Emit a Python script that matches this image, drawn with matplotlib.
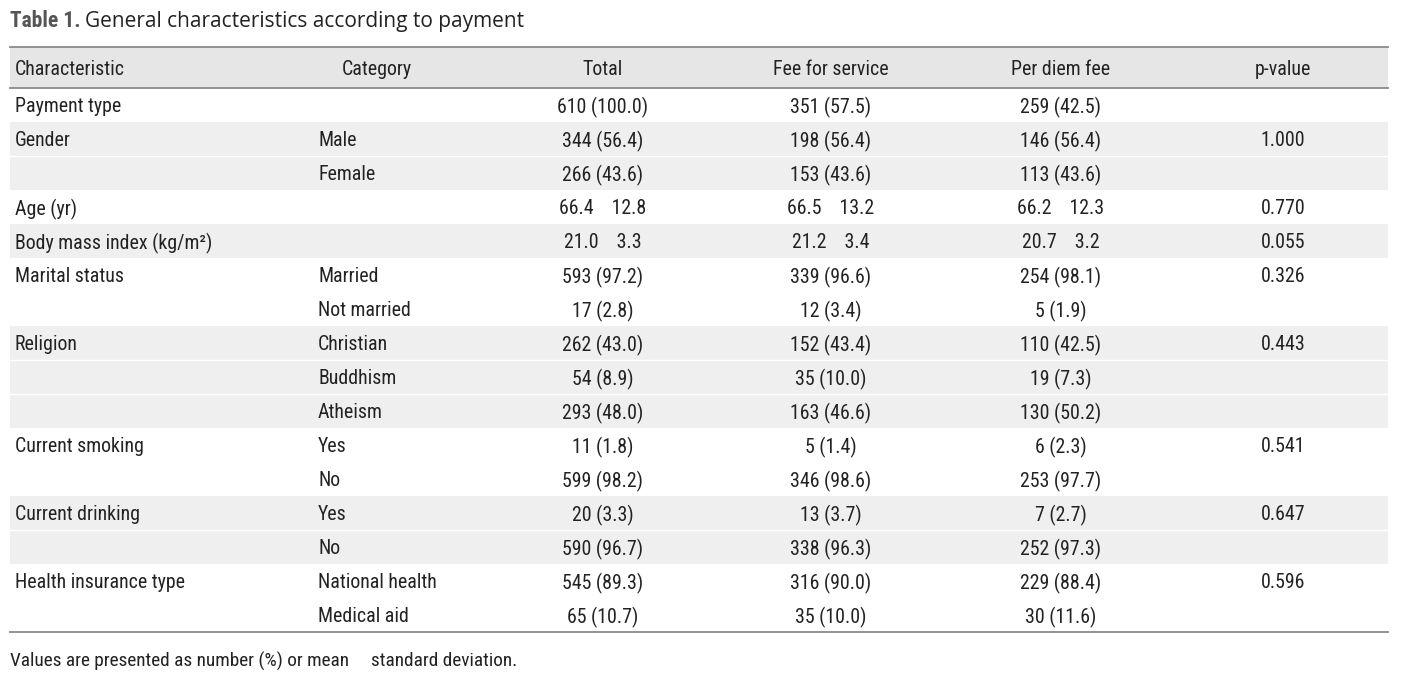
import matplotlib.pyplot as plt
from matplotlib import font_manager as fm
from matplotlib.patches import Rectangle

# datos da taboa
headers = ["Characteristic", "Category", "Total", "Fee for service", "Per diem fee", "p-value"]
characteristic = ["Payment type", "Gender", "", "Age (yr)", "Body mass index (kg/m\u00b2)",
                  "Marital status", "", "Religion", "", "", "Current smoking", "",
                  "Current drinking", "", "Health insurance type", ""]
category = ["", "Male", "Female", "", "", "Married", "Not married", "Christian", "Buddhism",
            "Atheism", "Yes", "No", "Yes", "No", "National health", "Medical aid"]
total = ["610 (100.0)", "344 (56.4)", "266 (43.6)", "66.4    12.8", "21.0    3.3", "593 (97.2)",
         "17 (2.8)", "262 (43.0)", "54 (8.9)", "293 (48.0)", "11 (1.8)", "599 (98.2)",
         "20 (3.3)", "590 (96.7)", "545 (89.3)", "65 (10.7)"]
fee_service = ["351 (57.5)", "198 (56.4)", "153 (43.6)", "66.5    13.2", "21.2    3.4", "339 (96.6)",
               "12 (3.4)", "152 (43.4)", "35 (10.0)", "163 (46.6)", "5 (1.4)", "346 (98.6)",
               "13 (3.7)", "338 (96.3)", "316 (90.0)", "35 (10.0)"]
per_diem = ["259 (42.5)", "146 (56.4)", "113 (43.6)", "66.2    12.3", "20.7    3.2", "254 (98.1)",
            "5 (1.9)", "110 (42.5)", "19 (7.3)", "130 (50.2)", "6 (2.3)", "253 (97.7)",
            "7 (2.7)", "252 (97.3)", "229 (88.4)", "30 (11.6)"]
p_value = ["", "1.000", "", "0.770", "0.055", "0.326", "", "0.443", "", "", "0.541", "",
           "0.647", "", "0.596", ""]
# grupo de cada fila (para o sombreado alterno)
grupo = [0, 1, 1, 2, 3, 4, 4, 5, 5, 5, 6, 6, 7, 7, 8, 8]


# buscar unha fonte estreita se existe
def busca_fonte(bold=False):
    prefs = ["liberationsansnarrow", "robotocondensed", "dejavusanscondensed",
             "notosans-condensed", "opensans-condensed", "condensed", "narrow"]
    lista = []
    for f in fm.fontManager.ttflist:
        nome = f.fname.lower().replace(" ", "").replace("_", "")
        base = nome.split("/")[-1]
        if "italic" in base or "oblique" in base:
            continue
        if bold != ("bold" in base):
            continue
        if bold and ("semibold" in base or "extrabold" in base):
            continue
        if not bold and any(k in base for k in ("light", "thin", "medium", "black", "semi", "extra")):
            continue
        for k, p in enumerate(prefs):
            if p in base:
                lista.append((k, f.fname))
                break
    lista.sort()
    return lista[0][1] if lista else None


ruta = busca_fonte()
ruta_b = busca_fonte(True)
if ruta:
    fs = 14.3
    fp = fm.FontProperties(fname=ruta, size=fs)
    fp_nota = fm.FontProperties(fname=ruta, size=13.9)
else:
    fs = 13
    fp = fm.FontProperties(family="Liberation Sans", size=fs)
    fp_nota = fm.FontProperties(family="Liberation Sans", size=12.5)
if ruta_b:
    fp_tit = fm.FontProperties(fname=ruta_b, size=15.5)
else:
    fp_tit = fm.FontProperties(family="Liberation Sans", weight="bold", size=14)

cor = "#222222"
dy = 2  # pequeno desprazamento vertical do texto

fig = plt.figure(figsize=(14.08, 6.77), dpi=100)
ax = fig.add_axes([0, 0, 1, 1])
ax.set_xlim(0, 1408)
ax.set_ylim(677, 0)
ax.axis("off")

x0, x1 = 10, 1388
y_top, y_head = 47, 88
alto = 34

# cabeceira
ax.add_patch(Rectangle((x0, y_top), x1 - x0, y_head - y_top, color="#e6e6e6", lw=0))
ax.plot([x0, x1], [y_top, y_top], color="#8a8a8a", lw=1.3)
ax.plot([x0, x1], [y_head, y_head], color="#8a8a8a", lw=1.3)

col_x = [15, 377, 603, 831, 1061, 1283]
col_ha = ["left", "center", "center", "center", "center", "center"]
for h, x, ha in zip(headers, col_x, col_ha):
    ax.text(x, (y_top + y_head) / 2 + dy, h, ha=ha, va="center", fontproperties=fp, color=cor)

# filas
n = len(category)
for i in range(n):
    yt = y_head + i * alto
    if grupo[i] % 2 == 1:
        ax.add_patch(Rectangle((x0, yt), x1 - x0, alto, color="#efefef", lw=0))
        if i > 0 and grupo[i - 1] == grupo[i]:
            ax.plot([x0, x1], [yt, yt], color="white", lw=1)
    yc = yt + alto / 2 + dy
    ax.text(15, yc, characteristic[i], ha="left", va="center", fontproperties=fp, color=cor)
    ax.text(318, yc, category[i], ha="left", va="center", fontproperties=fp, color=cor)
    ax.text(col_x[2], yc, total[i], ha="center", va="center", fontproperties=fp, color=cor)
    ax.text(col_x[3], yc, fee_service[i], ha="center", va="center", fontproperties=fp, color=cor)
    ax.text(col_x[4], yc, per_diem[i], ha="center", va="center", fontproperties=fp, color=cor)
    ax.text(col_x[5], yc, p_value[i], ha="center", va="center", fontproperties=fp, color=cor)

y_fin = y_head + n * alto
ax.plot([x0, x1], [y_fin, y_fin], color="#8a8a8a", lw=1.3)

# titulo
t = ax.text(10, 21, "Table 1.", ha="left", va="center", fontproperties=fp_tit, color="#555555")
fig.canvas.draw()
bb = t.get_window_extent()
ax.text(bb.x1 + 4, 21, "General characteristics according to payment", ha="left", va="center",
        fontsize=15, family=["Open Sans", "DejaVu Sans"], color=cor)

# nota
ax.text(10, 661, "Values are presented as number (%) or mean     standard deviation.", ha="left",
        va="center", fontproperties=fp_nota, color=cor)

fig.savefig("out.png", dpi=100)
